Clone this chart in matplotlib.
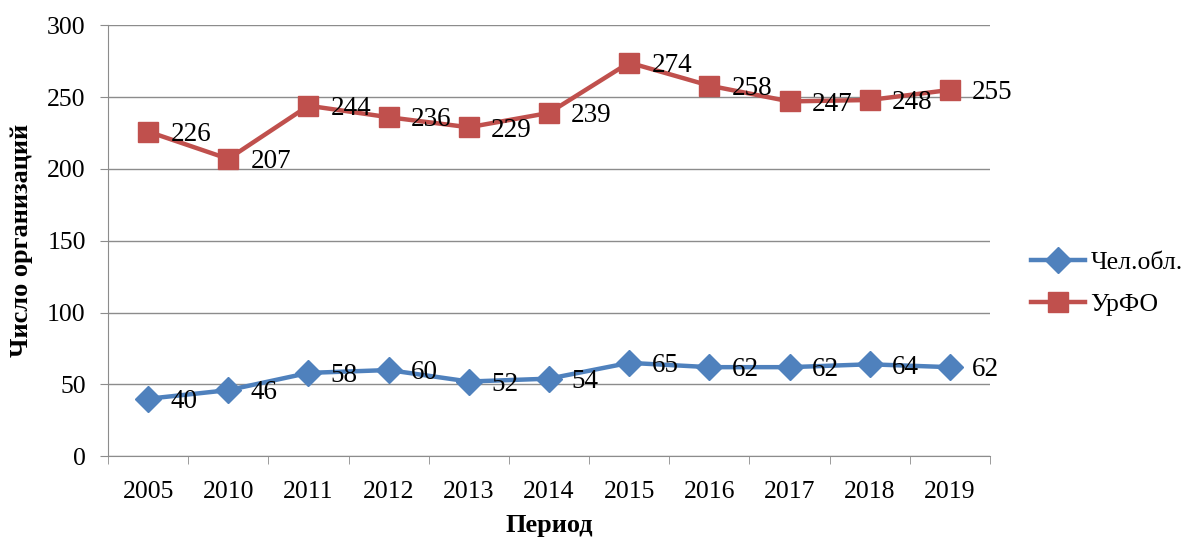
import numpy as np
import matplotlib.pyplot as plt

plt.rcParams['font.family'] = ['Liberation Serif', 'DejaVu Serif']

periods = ['2005', '2010', '2011', '2012', '2013', '2014', '2015', '2016', '2017', '2018', '2019']
chel = [40, 46, 58, 60, 52, 54, 65, 62, 62, 64, 62]
urfo = [226, 207, 244, 236, 229, 239, 274, 258, 247, 248, 255]

blue = '#4F81BD'
red = '#C0504D'
grid_c = '#8C8C8C'

fig = plt.figure(figsize=(11.87, 5.38), dpi=100)
ax = fig.add_axes([0.091, 0.152, 0.743, 0.801])

x = np.arange(len(periods))
ax.plot(x, chel, color=blue, lw=3.2, marker='D', ms=13, label='Чел.обл.', zorder=3)
ax.plot(x, urfo, color=red, lw=3.2, marker='s', ms=15, label='УрФО', zorder=3)

# value labels to the right of each point
for series in (chel, urfo):
    for xi, v in zip(x, series):
        ax.annotate(str(v), (xi, v), xytext=(16, -2), textcoords='offset points',
                    ha='left', va='center', fontsize=19.5, zorder=4)

ax.set_xlim(-0.5, len(periods) - 0.5)
ax.set_ylim(0, 300)
ax.set_yticks(range(0, 301, 50))
ax.set_xticks(x)
ax.set_xticklabels(periods)
ax.set_xticks(np.arange(-0.5, len(periods)), minor=True)
ax.tick_params(axis='x', which='major', length=0, pad=18, labelsize=18.5)
ax.tick_params(axis='x', which='minor', length=6, color=grid_c)
ax.tick_params(axis='y', length=6, color=grid_c, labelsize=18.5, pad=10)

ax.grid(axis='y', color=grid_c, lw=1)
ax.set_axisbelow(True)
for s in ['top', 'right']:
    ax.spines[s].set_visible(False)
for s in ['left', 'bottom']:
    ax.spines[s].set_color(grid_c)

ax.set_xlabel('Период', fontsize=19, fontweight='bold', labelpad=8)
ax.set_ylabel('Число организаций', fontsize=19, fontweight='bold', labelpad=10)

ax.legend(loc='center left', bbox_to_anchor=(1.047, 0.40), frameon=False,
          fontsize=18.5, handlelength=2.1, labelspacing=0.75, handletextpad=0.2,
          borderpad=0, borderaxespad=0)

fig.savefig('out.png', dpi=100)
